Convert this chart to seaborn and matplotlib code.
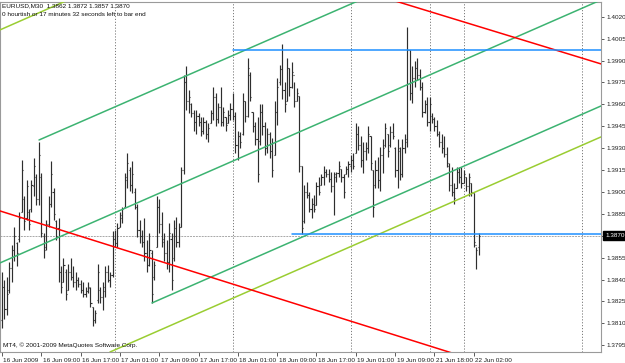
import numpy as np
import pandas as pd
import matplotlib
matplotlib.use("Agg")
import matplotlib.pyplot as plt
import matplotlib.transforms as mtrans
import seaborn as sns

# ---------------- data (EURUSD M30 bars) ----------------
highs = [1.3845, 1.3840, 1.3842, 1.3852, 1.3864, 1.3876, 1.3866, 1.3886, 1.3922, 1.3897,
         1.3908, 1.3888, 1.3908, 1.3923, 1.3912, 1.3934, 1.3913, 1.3872, 1.3881, 1.3897,
         1.3921, 1.3903, 1.3881, 1.3882, 1.3849, 1.3855, 1.3847, 1.3851, 1.3855, 1.3849,
         1.3845, 1.3842, 1.3840, 1.3838, 1.3835, 1.3838, 1.3835, 1.3821, 1.3819, 1.3851,
         1.3835, 1.3838, 1.3849, 1.3850, 1.3845, 1.3873, 1.3874,
         1.3879, 1.3886, 1.3890, 1.3913, 1.3927, 1.3917, 1.3921, 1.3903, 1.3892, 1.3881,
         1.3874, 1.3882, 1.3867, 1.3872, 1.3860, 1.3853, 1.3897, 1.3895, 1.3886, 1.3872,
         1.3867, 1.3879, 1.3872, 1.3881, 1.3883, 1.3879, 1.3917, 1.3980, 1.3986, 1.3970,
         1.3961, 1.3956, 1.3956, 1.3954, 1.3951, 1.3951, 1.3949, 1.3947, 1.3956, 1.3972,
         1.3968, 1.3961, 1.3972, 1.3958, 1.3951, 1.3956, 1.3961, 1.3968,
         1.3955, 1.3942, 1.3941, 1.3968, 1.3962, 1.3992, 1.3982, 1.3955, 1.3948, 1.3951,
         1.3960, 1.3960, 1.3948, 1.3944, 1.3941, 1.3937, 1.3962, 1.3978, 1.3987, 1.4001,
         1.3975, 1.3992, 1.3985, 1.3989, 1.3975, 1.3971, 1.3966, 1.3918, 1.3905, 1.3907,
         1.3900, 1.3896, 1.3898, 1.3907, 1.3910, 1.3912, 1.3918, 1.3916, 1.3916, 1.3914,
         1.3914, 1.3914, 1.3921, 1.3916, 1.3912, 1.3918, 1.3921, 1.3925, 1.3927,
         1.3947, 1.3945, 1.3938, 1.3934, 1.3934, 1.3945, 1.3938, 1.3915, 1.3922, 1.3924,
         1.3931, 1.3936, 1.3947, 1.3940, 1.3945, 1.3947, 1.3931, 1.3936, 1.3931, 1.3936,
         1.3940, 1.4013, 1.3997, 1.3986, 1.3990, 1.3992, 1.3984, 1.3975, 1.3963, 1.3965,
         1.3965, 1.3954, 1.3951, 1.3949, 1.3942, 1.3940, 1.3938, 1.3931, 1.3920, 1.3917,
         1.3906, 1.3917, 1.3917, 1.3917, 1.3915, 1.3910, 1.3913, 1.3906, 1.3899, 1.3862,
         1.3872]
lows = [1.3807, 1.3813, 1.3816, 1.3831, 1.3838, 1.3853, 1.3849, 1.3866, 1.3886, 1.3874,
        1.3881, 1.3874, 1.3886, 1.3897, 1.3891, 1.3891, 1.3869, 1.3855, 1.3860, 1.3876,
        1.3890, 1.3881, 1.3867, 1.3838, 1.3831, 1.3838, 1.3826, 1.3833, 1.3840, 1.3835,
        1.3833, 1.3835, 1.3831, 1.3828, 1.3828, 1.3831, 1.3821, 1.3808, 1.3810, 1.3824,
        1.3824, 1.3819, 1.3828, 1.3838, 1.3835, 1.3842, 1.3862,
        1.3862, 1.3876, 1.3879, 1.3890, 1.3903, 1.3901, 1.3899, 1.3888, 1.3869, 1.3865,
        1.3862, 1.3853, 1.3845, 1.3849, 1.3824, 1.3840, 1.3862, 1.3872, 1.3862, 1.3853,
        1.3847, 1.3845, 1.3833, 1.3853, 1.3862, 1.3862, 1.3876, 1.3912, 1.3956, 1.3954,
        1.3951, 1.3942, 1.3940, 1.3945, 1.3938, 1.3940, 1.3936, 1.3934, 1.3947, 1.3949,
        1.3945, 1.3947, 1.3945, 1.3945, 1.3942, 1.3947, 1.3949, 1.3949,
        1.3927, 1.3922, 1.3930, 1.3939, 1.3948, 1.3951, 1.3962, 1.3941, 1.3932, 1.3907,
        1.3932, 1.3939, 1.3925, 1.3927, 1.3923, 1.3910, 1.3925, 1.3946, 1.3973, 1.3964,
        1.3955, 1.3962, 1.3966, 1.3971, 1.3958, 1.3962, 1.3914, 1.3871, 1.3879, 1.3896,
        1.3886, 1.3882, 1.3886, 1.3891, 1.3898, 1.3905, 1.3905, 1.3910, 1.3907, 1.3900,
        1.3884, 1.3907, 1.3910, 1.3907, 1.3896, 1.3912, 1.3910, 1.3914, 1.3916,
        1.3927, 1.3929, 1.3917, 1.3913, 1.3922, 1.3927, 1.3915, 1.3883, 1.3903, 1.3903,
        1.3901, 1.3913, 1.3931, 1.3924, 1.3931, 1.3936, 1.3910, 1.3903, 1.3908, 1.3910,
        1.3927, 1.3931, 1.3963, 1.3961, 1.3972, 1.3977, 1.3970, 1.3951, 1.3954, 1.3945,
        1.3942, 1.3947, 1.3942, 1.3938, 1.3931, 1.3927, 1.3924, 1.3917, 1.3901, 1.3897,
        1.3892, 1.3903, 1.3906, 1.3903, 1.3906, 1.3901, 1.3897, 1.3897, 1.3862, 1.3847,
        1.3857]
opens = [1.3812, 1.3835, 1.3820, 1.3833, 1.3848, 1.3860, 1.3865, 1.3868, 1.3886, 1.3895,
         1.3882, 1.3886, 1.3888, 1.3904, 1.3910, 1.3895, 1.3910, 1.3870, 1.3862, 1.3878,
         1.3892, 1.3900, 1.3880, 1.3875, 1.3845, 1.3838, 1.3845, 1.3833, 1.3845, 1.3842,
         1.3838, 1.3840, 1.3837, 1.3833, 1.3830, 1.3832, 1.3834, 1.3821, 1.3812, 1.3826,
         1.3833, 1.3828, 1.3832, 1.3845, 1.3840, 1.3843, 1.3868,
         1.3865, 1.3876, 1.3882, 1.3890, 1.3908, 1.3915, 1.3905, 1.3900, 1.3890, 1.3874,
         1.3870, 1.3866, 1.3858, 1.3850, 1.3858, 1.3842, 1.3862, 1.3890, 1.3878, 1.3866,
         1.3858, 1.3852, 1.3868, 1.3855, 1.3870, 1.3866, 1.3876, 1.3915, 1.3975, 1.3962,
         1.3960, 1.3954, 1.3948, 1.3952, 1.3948, 1.3942, 1.3948, 1.3940, 1.3947, 1.3954,
         1.3965, 1.3950, 1.3958, 1.3948, 1.3951, 1.3947, 1.3953, 1.3957,
         1.3952, 1.3932, 1.3938, 1.3940, 1.3962, 1.3952, 1.3980, 1.3955, 1.3945, 1.3936,
         1.3935, 1.3955, 1.3945, 1.3930, 1.3940, 1.3928, 1.3925, 1.3955, 1.3975, 1.3984,
         1.3970, 1.3962, 1.3985, 1.3972, 1.3980, 1.3962, 1.3966, 1.3918, 1.3880, 1.3900,
         1.3898, 1.3888, 1.3892, 1.3891, 1.3904, 1.3905, 1.3910, 1.3914, 1.3912, 1.3909,
         1.3904, 1.3910, 1.3913, 1.3916, 1.3910, 1.3912, 1.3916, 1.3918, 1.3922,
         1.3927, 1.3940, 1.3932, 1.3922, 1.3928, 1.3930, 1.3938, 1.3915, 1.3905, 1.3915,
         1.3908, 1.3925, 1.3932, 1.3940, 1.3932, 1.3941, 1.3930, 1.3915, 1.3928, 1.3912,
         1.3930, 1.3934, 1.3997, 1.3968, 1.3978, 1.3985, 1.3980, 1.3972, 1.3955, 1.3960,
         1.3948, 1.3952, 1.3950, 1.3945, 1.3940, 1.3934, 1.3930, 1.3926, 1.3918, 1.3905,
         1.3900, 1.3903, 1.3914, 1.3910, 1.3906, 1.3910, 1.3904, 1.3906, 1.3899, 1.3864,
         1.3862]
closes = [1.3835, 1.3820, 1.3830, 1.3848, 1.3860, 1.3870, 1.3858, 1.3882, 1.3915, 1.3880,
          1.3904, 1.3878, 1.3905, 1.3918, 1.3895, 1.3925, 1.3872, 1.3860, 1.3878, 1.3892,
          1.3912, 1.3885, 1.3870, 1.3845, 1.3835, 1.3850, 1.3830, 1.3845, 1.3842, 1.3838,
          1.3840, 1.3837, 1.3833, 1.3830, 1.3832, 1.3835, 1.3824, 1.3812, 1.3817, 1.3845,
          1.3828, 1.3835, 1.3845, 1.3840, 1.3843, 1.3868, 1.3865,
          1.3875, 1.3884, 1.3888, 1.3910, 1.3920, 1.3905, 1.3912, 1.3890, 1.3874, 1.3870,
          1.3866, 1.3858, 1.3850, 1.3860, 1.3830, 1.3850, 1.3890, 1.3878, 1.3868, 1.3858,
          1.3852, 1.3872, 1.3840, 1.3875, 1.3866, 1.3876, 1.3915, 1.3975, 1.3962, 1.3965,
          1.3954, 1.3948, 1.3952, 1.3948, 1.3942, 1.3948, 1.3940, 1.3944, 1.3954, 1.3965,
          1.3950, 1.3958, 1.3948, 1.3955, 1.3946, 1.3953, 1.3957, 1.3952,
          1.3932, 1.3938, 1.3934, 1.3962, 1.3952, 1.3985, 1.3965, 1.3945, 1.3936, 1.3912,
          1.3955, 1.3945, 1.3930, 1.3940, 1.3928, 1.3915, 1.3955, 1.3972, 1.3984, 1.3970,
          1.3960, 1.3985, 1.3972, 1.3982, 1.3962, 1.3968, 1.3918, 1.3875, 1.3900, 1.3898,
          1.3888, 1.3892, 1.3888, 1.3904, 1.3900, 1.3910, 1.3914, 1.3912, 1.3909, 1.3904,
          1.3912, 1.3913, 1.3918, 1.3910, 1.3900, 1.3916, 1.3919, 1.3922, 1.3918,
          1.3940, 1.3932, 1.3922, 1.3928, 1.3930, 1.3940, 1.3920, 1.3890, 1.3915, 1.3908,
          1.3925, 1.3930, 1.3944, 1.3928, 1.3941, 1.3938, 1.3915, 1.3930, 1.3912, 1.3930,
          1.3936, 1.3997, 1.3968, 1.3978, 1.3985, 1.3980, 1.3972, 1.3955, 1.3960, 1.3948,
          1.3960, 1.3950, 1.3945, 1.3940, 1.3934, 1.3930, 1.3926, 1.3920, 1.3905, 1.3900,
          1.3896, 1.3914, 1.3910, 1.3906, 1.3912, 1.3904, 1.3910, 1.3900, 1.3866, 1.3860,
          1.3870]

first_bar_index = 2          # bar slot of the first visible bar (16 Jun 01:00)
last_price = 1.3870

# time axis labels: (bar slot, label)
xtick_slots = [2, 18, 34, 50, 66, 82, 98, 114, 130, 146, 162, 178, 194]
xtick_labels = ["16 Jun 2009", "16 Jun 09:00", "16 Jun 17:00", "17 Jun 01:00",
                "17 Jun 09:00", "17 Jun 17:00", "18 Jun 01:00", "18 Jun 09:00",
                "18 Jun 17:00", "19 Jun 01:00", "19 Jun 09:00", "21 Jun 18:00",
                "22 Jun 02:00"]
day_separators = [48, 96, 144, 176, 190, 238]

yticks = [1.3795, 1.3810, 1.3825, 1.3840, 1.3855, 1.3870, 1.3885, 1.3900,
          1.3915, 1.3930, 1.3945, 1.3960, 1.3975, 1.3990, 1.4005, 1.4020]

# drawn objects: (slot0, price0, slot1, price1)
red_lines = [(1.19, 1.38870, 185.2, 1.37897),
             (160.7, 1.40315, 245.8, 1.39877)]
green_lines = [(17.07, 1.39356, 245.8, 1.41034),
               (1.19, 1.38514, 245.8, 1.40315),
               (63.06, 1.38240, 245.8, 1.39589)]
yellowgreen_lines = [(1.19, 1.40110, 40.0, 1.40397),
                     (45.96, 1.37904, 245.8, 1.39377)]
blue_levels = [(96.0, 1.3997), (120.0, 1.3871)]

header1 = "EURUSD,M30  1.3862 1.3872 1.3857 1.3870"
header2 = "0 hourtish or 17 minutes 32 seconds left to bar end"
footer = "MT4, \u00a9 2001-2009 MetaQuotes Software Corp."

# ---------------- plotting ----------------
sns.set_style("white")
plt.rcParams['font.family'] = ['Liberation Sans', 'DejaVu Sans']
FS = 4.6

W, H = 625, 363
fig = plt.figure(figsize=(W / 100, H / 100), dpi=100)
fig.patch.set_facecolor("white")
ax = fig.add_axes([0.0, 1 - 352 / H, 601 / W, 350 / H])
ax.set_facecolor("white")

xmin, xmax = 1.19, 245.8
ymin, ymax = 1.37904, 1.40301

# bid line and separators
ax.axhline(last_price, color="#a8a8a8", lw=0.7, ls=(0, (2, 1)), zorder=1)
for s in day_separators:
    ax.axvline(s, color="#7a7a7a", lw=0.7, ls=(0, (1.2, 1.8)), zorder=1)

# OHLC bars
n = len(highs)
xs = np.arange(n) + first_bar_index
bar_color = "#2e2e2e"
ax.vlines(xs, lows, highs, color=bar_color, lw=0.85, zorder=3)
ax.hlines(opens, xs - 0.45, xs, color=bar_color, lw=0.8, zorder=3)
ax.hlines(closes, xs, xs + 0.45, color=bar_color, lw=0.8, zorder=3)

def draw_line(seg, color):
    df = pd.DataFrame({"x": [seg[0], seg[2]], "y": [seg[1], seg[3]]})
    sns.lineplot(data=df, x="x", y="y", ax=ax, color=color, lw=1.1,
                 estimator=None, sort=False, zorder=4)

for seg in green_lines:
    draw_line(seg, "#3cb371")
for seg in yellowgreen_lines:
    draw_line(seg, "#9acd32")
for seg in red_lines:
    draw_line(seg, "#ff0000")
for start, lvl in blue_levels:
    draw_line((start, lvl, xmax + 5, lvl), "#1e90ff")

ax.set_xlim(xmin, xmax)
ax.set_ylim(ymin, ymax)
ax.set_xlabel("")
ax.set_ylabel("")

# axes styling
for sp in ax.spines.values():
    sp.set_color("#9a9a9a")
    sp.set_linewidth(0.8)
ax.yaxis.tick_right()
ax.set_yticks(yticks)
# the tick at the current price is labelled by the black price box instead
ax.set_yticklabels(["" if abs(v - last_price) < 1e-9 else f"{v:.4f}" for v in yticks],
                   fontsize=FS, color="#202020")
ax.tick_params(axis="y", direction="out", length=2, width=0.6, color="#404040",
               pad=2, right=True, left=False)
ax.set_xticks(xtick_slots)
ax.set_xticklabels(xtick_labels, fontsize=FS, color="#202020", ha="left")
ax.tick_params(axis="x", direction="out", length=3, width=0.6, color="#404040", pad=1.5,
               bottom=True)
offset = mtrans.ScaledTranslation(1.5 / 100, 0, fig.dpi_scale_trans)
for lbl in ax.get_xticklabels():
    lbl.set_transform(lbl.get_transform() + offset)

# current price box
ax.text(1 + 4 / 601, (last_price - ymin) / (ymax - ymin), f"{last_price:.4f}",
        transform=ax.transAxes, fontsize=FS, color="white", va="center", ha="left",
        bbox=dict(boxstyle="square,pad=0.3", fc="black", ec="black"), zorder=10,
        clip_on=False)

# header / footer texts
fig.text(2 / W, 1 - 6 / H, header1, fontsize=FS, va="center", ha="left", color="#101010")
fig.text(2 / W, 1 - 14 / H, header2, fontsize=FS, va="center", ha="left", color="#101010")
fig.text(3 / W, 1 - 345 / H, footer, fontsize=FS, va="center", ha="left", color="#101010")

fig.savefig("out.png", dpi=100, facecolor="white")
